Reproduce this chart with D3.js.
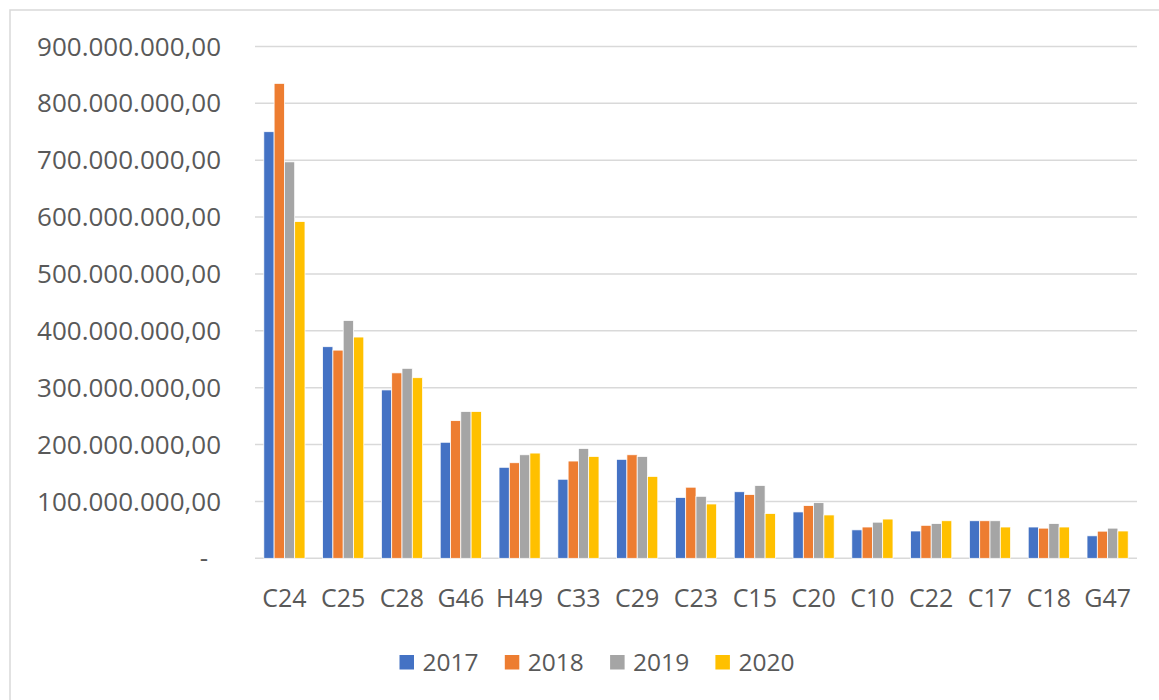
<!DOCTYPE html>
<html lang="en">
<head>
	<meta charset="UTF-8">
	<title>Bars by sector</title>
	<script src="https://cdn.jsdelivr.net/npm/d3@7"></script>
	<style>
		html,body{
			margin:0;
			padding:0;
			background:#fff;
		}
		svg{
			display:block;
			font-family:"Open Sans",sans-serif;
		}
		.grid line{
			stroke:#d9d9d9;
			stroke-width:1.5;
		}
		.lbl{
			fill:#595959;
		}
	</style>
</head>
<body>
	<svg id="svg" width="1159" height="700"></svg>
	<script>
		var categories = ["C24","C25","C28","G46","H49","C33","C29","C23","C15","C20","C10","C22","C17","C18","G47"];
		var years = ["2017","2018","2019","2020"];
		var colors = ["#4472c4","#ed7d31","#a5a5a5","#ffc000"];
		// values in millions
		var v2017 = [750,372,296,204,160,139,174,107,117,81.5,50,48,66,55,39.5];
		var v2018 = [835,366,326,242,168,171,182,125,112,92.6,55,58,66,53,47.7];
		var v2019 = [697,418,334,258,182,193,179,109,128,97.8,63.5,61,66,61,53];
		var v2020 = [592,389,317.5,258,185,179,144,95.5,78.7,76.2,69,66,55,55,48];
		var yTicks = [0,100e6,200e6,300e6,400e6,500e6,600e6,700e6,800e6,900e6];

		var seriesVals = [v2017,v2018,v2019,v2020];
		var data = categories.map((c,i)=>{
			return {
				cat:c,
				vals:years.map((y,j)=>({year:y,v:seriesVals[j][i]*1e6,color:colors[j]}))
			}
		});

		var svg = d3.select("#svg");
		var plotL = 255, plotR = 1137, plotT = 46.4, plotB = 558.3;

		var loc = d3.formatLocale({decimal:",",thousands:".",grouping:[3],currency:["",""]});
		var fmt = loc.format(",.2f");

		// chart frame
		svg.append("rect")
			.attr("x",10).attr("y",10)
			.attr("width",1170).attr("height",720)
			.attr("fill","none")
			.attr("stroke","#d9d9d9")
			.attr("stroke-width",1.5);

		var xscale = d3.scaleBand()
			.domain(categories)
			.range([plotL,plotR])
			.paddingInner(0.3)
			.paddingOuter(0.15);
		var x1 = d3.scaleBand()
			.domain(years)
			.range([0,xscale.bandwidth()]);
		var yscale = d3.scaleLinear()
			.domain([0,900e6])
			.range([plotB,plotT]);

		var grid = svg.append("g").attr("class","grid");
		grid.selectAll("line")
			.data(yTicks)
			.enter().append("line")
			.attr("x1",plotL).attr("x2",plotR)
			.attr("y1",d=>yscale(d)).attr("y2",d=>yscale(d));

		svg.append("g").selectAll("text")
			.data(yTicks)
			.enter().append("text")
			.attr("class","lbl")
			.attr("x",d=>d===0?208:221)
			.attr("y",d=>yscale(d))
			.attr("dy","0.35em")
			.attr("text-anchor","end")
			.style("font-size","26px")
			.text(d=>d===0?"-":fmt(d));

		var groups = svg.append("g").selectAll("g")
			.data(data)
			.enter().append("g")
			.attr("transform",d=>"translate("+xscale(d.cat)+",0)");
		groups.selectAll("rect")
			.data(d=>d.vals)
			.enter().append("rect")
			.attr("x",d=>x1(d.year))
			.attr("y",d=>yscale(d.v))
			.attr("width",x1.bandwidth())
			.attr("height",d=>plotB-yscale(d.v))
			.attr("fill",d=>d.color)
			.attr("stroke","#fff")
			.attr("stroke-width",0.75);

		svg.append("g").selectAll("text")
			.data(categories)
			.enter().append("text")
			.attr("class","lbl")
			.attr("x",d=>xscale(d)+xscale.bandwidth()/2)
			.attr("y",598)
			.attr("dy","0.35em")
			.attr("text-anchor","middle")
			.style("font-size","25px")
			.text(d=>d);

		// legend
		var legend = svg.append("g").selectAll("g")
			.data(years)
			.enter().append("g")
			.attr("transform",(d,i)=>"translate("+(399.5+i*105.3)+",655)");
		legend.append("rect")
			.attr("width",14.5).attr("height",14.5)
			.attr("fill",(d,i)=>colors[i]);
		legend.append("text")
			.attr("class","lbl")
			.attr("x",23)
			.attr("y",7)
			.attr("dy","0.35em")
			.style("font-size","24.5px")
			.text(d=>d);
	</script>
</body>
</html>
